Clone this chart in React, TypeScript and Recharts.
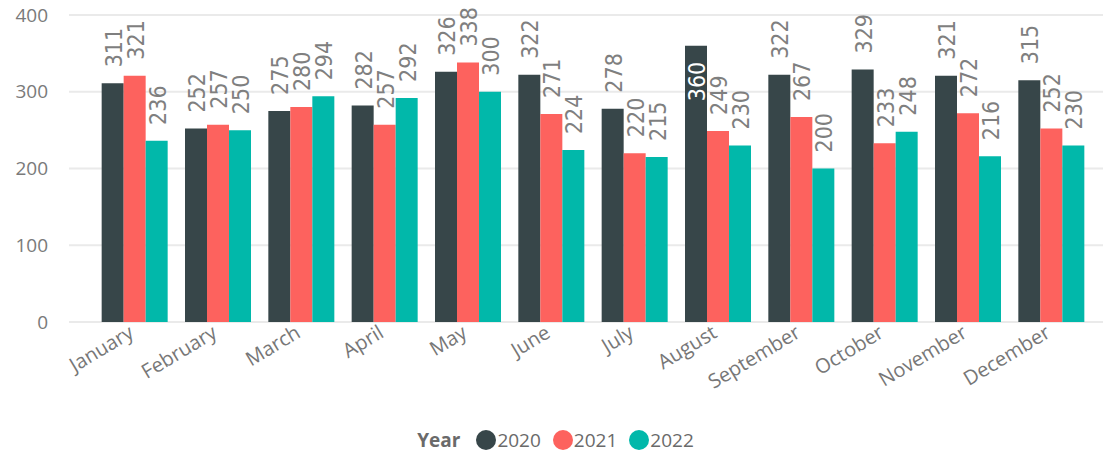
import React from "react";
import { BarChart, Bar, XAxis, YAxis, CartesianGrid, Legend } from "recharts";

const months = ["January", "February", "March", "April", "May", "June", "July", "August", "September", "October", "November", "December"];
const values2020 = [311, 252, 275, 282, 326, 322, 278, 360, 322, 329, 321, 315];
const values2021 = [321, 257, 280, 257, 338, 271, 220, 249, 267, 233, 272, 252];
const values2022 = [236, 250, 294, 292, 300, 224, 215, 230, 200, 248, 216, 230];
const yTicks = [0, 100, 200, 300, 400];
const seriesNames = ["2020", "2021", "2022"];
const colors = ["#374649", "#FD625E", "#01B8AA"];

const data = months.map((m, i) => ({
  month: m,
  "2020": values2020[i],
  "2021": values2021[i],
  "2022": values2022[i],
}));

const LABEL_FONT = "'Liberation Sans Narrow', 'DejaVu Sans Condensed', Roboto, sans-serif";
const AXIS_FONT = "'Open Sans', 'Noto Sans', sans-serif";

const VLabel = (props: any) => {
  const { x, y, width, value } = props;
  const cx = x + width / 2 + 1;
  const gap = 16;
  const len = String(value).length * 10.6;
  const inside = y - gap - len < 8;
  const ty = inside ? y + gap : y - gap;
  return (
    <text
      x={cx}
      y={ty}
      transform={`rotate(-90, ${cx}, ${ty})`}
      textAnchor={inside ? "end" : "start"}
      dominantBaseline="central"
      fill={inside ? "#ffffff" : "#7F7F7F"}
      fontSize={23}
      fontFamily={LABEL_FONT}
    >
      {value}
    </text>
  );
};

const XTick = (props: any) => {
  const { x, y, payload } = props;
  const ax = x - 7;
  const ay = y;
  return (
    <text
      x={ax}
      y={ay}
      transform={`rotate(-31, ${ax}, ${ay})`}
      textAnchor="end"
      dy="0.72em"
      fill="#777777"
      fontSize={20}
      fontFamily={AXIS_FONT}
    >
      {payload.value}
    </text>
  );
};

const LegendContent = () => (
  <div
    style={{
      display: "flex",
      justifyContent: "center",
      alignItems: "center",
      height: 36,
      fontFamily: AXIS_FONT,
      fontSize: 19,
      color: "#6A6A6A",
    }}
  >
    <span style={{ fontWeight: 700, color: "#6A6A6A", marginRight: 16 }}>Year</span>
    {seriesNames.map((n, i) => (
      <span key={n} style={{ display: "flex", alignItems: "center", marginRight: i < 2 ? 12 : 0 }}>
        <span
          style={{
            display: "inline-block",
            width: 20,
            height: 20,
            borderRadius: 10,
            background: colors[i],
            marginRight: 1,
          }}
        />
        <span>{n}</span>
      </span>
    ))}
  </div>
);

export default function App() {
  return (
    <div style={{ margin: "-8px 0 0 -8px", width: 1111, height: 459 }}>
      <BarChart
        width={1111}
        height={459}
        data={data}
        margin={{ top: 15, right: 0, bottom: 1, left: 0 }}
        barCategoryGap="10.4%"
        barGap={0}
      >
        <CartesianGrid vertical={false} stroke="#EAEAEA" strokeWidth={2} />
        <XAxis
          dataKey="month"
          axisLine={false}
          tickLine={false}
          tickSize={0}
          interval={0}
          height={100}
          padding={{ left: 24, right: 18 }}
          tick={<XTick />}
        />
        <YAxis
          domain={[0, 400]}
          ticks={yTicks}
          axisLine={false}
          tickLine={false}
          tickSize={0}
          tickMargin={21}
          width={69}
          tick={{ fill: "#7A7A7A", fontSize: 19, fontFamily: AXIS_FONT }}
        />
        <Legend
          verticalAlign="bottom"
          content={<LegendContent />}
          wrapperStyle={{ left: 0, width: 1111, bottom: 1, height: 36 }}
        />
        {seriesNames.map((n, i) => (
          <Bar key={n} dataKey={n} fill={colors[i]} isAnimationActive={false} label={<VLabel />} />
        ))}
      </BarChart>
    </div>
  );
}
